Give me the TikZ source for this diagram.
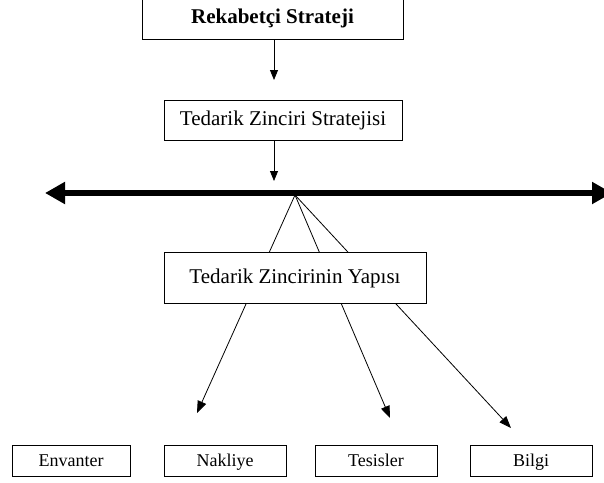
\documentclass[tikz,border=0pt]{standalone}
\usepackage{fontspec}
\setmainfont{Liberation Serif}
\usetikzlibrary{arrows.meta}
\begin{document}
\begin{tikzpicture}[x=1pt,y=-1pt,
  box/.style={draw,line width=0.8pt,fill=white,inner sep=0pt,align=center,text height=2.4ex,text depth=0ex},
  bigfont/.style={font=\fontsize{21}{25}\selectfont},
  smallfont/.style={font=\fontsize{18}{22}\selectfont},
  thinarrow/.style={line width=0.8pt,-{Triangle[length=10pt,width=8pt]}},
  fanline/.style={line width=0.8pt,-{Triangle[length=12pt,width=9pt]}},
  axis/.style={line width=6pt,{Triangle[length=20pt,width=21pt]}-{Triangle[length=20pt,width=21pt]}}]
\useasboundingbox (0,0) rectangle (604,482);
% coordinates
\coordinate (a1) at (274,80);
\coordinate (a2) at (274,181);
\coordinate (L) at (45,193);
\coordinate (R) at (612,193);
\coordinate (O) at (295,195);
\coordinate (t1) at (197,413);
\coordinate (t2) at (390,418);
\coordinate (t3) at (511,428);
% top boxes
\node[box,font=\fontsize{21}{25}\selectfont\bfseries,minimum width=261pt,minimum height=42pt] (rs) at (272.5,18) {Rekabetçi Strateji};
\node[box,bigfont,minimum width=238pt,minimum height=40pt] (tz) at (283,120) {Tedarik Zinciri Stratejisi};
\draw[thinarrow] (rs.south -| a1) -- (a1);
\draw[thinarrow] (tz.south -| a2) -- (a2);
% thick axis
\draw[axis] (L) -- (R);
% fan
\draw[fanline] (O) -- (t1);
\draw[fanline] (O) -- (t2);
\draw[fanline] (O) -- (t3);
\node[box,bigfont,minimum width=262pt,minimum height=51pt] (ty) at (295,277.5) {Tedarik Zincirinin Yapısı};
% bottom boxes
\node[box,smallfont,minimum width=118pt,minimum height=31pt] (env) at (71,460.5) {Envanter};
\node[box,smallfont,minimum width=122pt,minimum height=31pt] (nak) at (225,460.5) {Nakliye};
\node[box,smallfont,minimum width=122pt,minimum height=31pt] (tes) at (376,460.5) {Tesisler};
\node[box,smallfont,minimum width=122pt,minimum height=31pt] (bil) at (531,460.5) {Bilgi};
\end{tikzpicture}
\end{document}
